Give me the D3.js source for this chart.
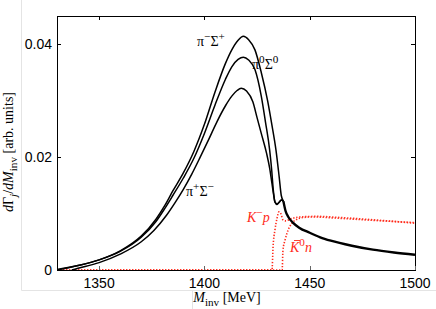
<!DOCTYPE html>
<html>
<head>
<meta charset="utf-8">
<script src="https://cdn.jsdelivr.net/npm/d3@7"></script>
<style>
  html, body { margin: 0; padding: 0; background: #fff; }
  svg { display: block; }
  .tick-label { font-family: "Liberation Sans", Arial, sans-serif; font-size: 14px; fill: #000; }
  .tex { font-family: "Liberation Serif", "Times New Roman", serif; fill: #000; }
</style>
</head>
<body>
<svg id="chart" width="436" height="309"></svg>
<script>
// [M_inv (MeV), dGamma/dM]
const piMinusSigmaPlus = [
  [1330, 0], [1340, 0.0008], [1350, 0.0018], [1360, 0.0034], [1366, 0.0048],
  [1370, 0.0060], [1377, 0.0090], [1381, 0.0113], [1385, 0.0140], [1390, 0.0172],
  [1395, 0.0210], [1400, 0.0258], [1405, 0.0315], [1410, 0.0366], [1413, 0.0390],
  [1416, 0.0407], [1418.5, 0.0414], [1421, 0.0408], [1424, 0.0390], [1427, 0.0350],
  [1430, 0.0300], [1432, 0.0258], [1434, 0.0212], [1435.5, 0.0165], [1436.5, 0.0132],
  [1437.5, 0.0122]
];
const piZeroSigmaZero = [
  [1330, 0.0001], [1340, 0.0008], [1350, 0.0018], [1360, 0.0033], [1370, 0.0058],
  [1377, 0.0086], [1381, 0.0108], [1385, 0.0132], [1390, 0.0163], [1395, 0.0198],
  [1400, 0.0242], [1405, 0.0292], [1410, 0.0338], [1413, 0.0360], [1416, 0.0373],
  [1418.5, 0.0377], [1421, 0.0372], [1424, 0.0355], [1427, 0.0308], [1429, 0.0262],
  [1431, 0.0212], [1432, 0.0175], [1432.7, 0.0142], [1433.5, 0.0121], [1434.5, 0.0117],
  [1435.5, 0.0120], [1436.5, 0.0124], [1437.5, 0.0122]
];
const piPlusSigmaMinus = [
  [1337, 0], [1340, 0.0003], [1350, 0.0013], [1360, 0.0028], [1370, 0.0050],
  [1376, 0.0070], [1382, 0.0097], [1386, 0.0119], [1390, 0.0143], [1394, 0.0170],
  [1398, 0.0200], [1402, 0.0231], [1406, 0.0263], [1410, 0.0291], [1413, 0.0308],
  [1415.5, 0.0318], [1417.5, 0.0322], [1420, 0.0317], [1423, 0.0298], [1425, 0.0270],
  [1427, 0.0242], [1429.5, 0.0207], [1431, 0.0180], [1432, 0.0155], [1432.8, 0.0135],
  [1433.5, 0.0120], [1434.5, 0.0116], [1435.5, 0.0120], [1436.5, 0.0124], [1437.5, 0.0122]
];
// common curve above the K̄0n threshold (all three coincide)
const commonTail = [
  [1437.5, 0.0122], [1438.5, 0.0105], [1440, 0.0093], [1442, 0.0084], [1445, 0.0075],
  [1450, 0.0066], [1455, 0.0058], [1460, 0.0052], [1470, 0.0043], [1480, 0.0036],
  [1490, 0.0031], [1500, 0.0027]
];
const kMinusP = [
  [1330, 0], [1432.1, 0], [1432.6, 0.0041], [1433.5, 0.0071], [1434.5, 0.0092],
  [1435.4, 0.0103], [1436.4, 0.0099], [1437.3, 0.0089], [1438.7, 0.0087], [1440.6, 0.0090],
  [1445.4, 0.0094], [1453.5, 0.0095], [1464.4, 0.0093], [1483.4, 0.0088], [1500, 0.0083]
];
const kBarZeroN = [
  [1330, 0], [1436.9, 0], [1437.3, 0.0035], [1438.3, 0.0053], [1439.2, 0.0065],
  [1441.6, 0.0083], [1444, 0.0090], [1446.8, 0.0093], [1452, 0.0094], [1462, 0.0092],
  [1480, 0.0088], [1500, 0.0084]
];

const xTicks = [1350, 1400, 1450, 1500];
const yTicks = [0, 0.02, 0.04];
const yTickLabels = ["0", "0.02", "0.04"];

const W = 436, H = 309;
const plot = { left: 57, right: 415, top: 16, bottom: 270 };

const svg = d3.select("#chart");

const x = d3.scaleLinear().domain([1330, 1500]).range([plot.left, plot.right]);
const y = d3.scaleLinear().domain([0, 0.045]).range([plot.bottom, plot.top]);

// faint page guides
svg.append("path")
  .attr("d", `M21.5,0V290.5H${W}M192.5,290.5V${H}`)
  .attr("fill", "none")
  .attr("stroke", "#e4e4e4")
  .attr("stroke-width", 1);

svg.append("clipPath").attr("id", "plotClip")
  .append("rect")
  .attr("x", plot.left).attr("y", plot.top)
  .attr("width", plot.right - plot.left).attr("height", plot.bottom - plot.top);

const line = d3.line()
  .x((d) => x(d[0]))
  .y((d) => y(d[1]))
  .curve(d3.curveMonotoneX);

const g = svg.append("g").attr("clip-path", "url(#plotClip)");

// red dotted K̄N channels
for (const s of [kMinusP, kBarZeroN]) {
  g.append("path")
    .attr("d", line(s))
    .attr("fill", "none")
    .attr("stroke", "#ff2a1a")
    .attr("stroke-width", 1.6)
    .attr("stroke-dasharray", "1.3 1.7");
}

for (const s of [piMinusSigmaPlus, piZeroSigmaZero, piPlusSigmaMinus]) {
  g.append("path")
    .attr("d", line(s))
    .attr("fill", "none")
    .attr("stroke", "#000")
    .attr("stroke-width", 1.5);
}

g.append("path")
  .attr("d", line(commonTail))
  .attr("fill", "none")
  .attr("stroke", "#000")
  .attr("stroke-width", 2.4);

// frame + inward ticks
const axes = svg.append("g");
axes.append("rect")
  .attr("x", plot.left + 0.5).attr("y", plot.top + 0.5)
  .attr("width", plot.right - plot.left).attr("height", plot.bottom - plot.top)
  .attr("fill", "none").attr("stroke", "#000").attr("stroke-width", 1);

const tickLen = 4;
for (const t of xTicks) {
  const px = Math.round(x(t)) + 0.5;
  axes.append("line").attr("x1", px).attr("x2", px)
    .attr("y1", plot.bottom).attr("y2", plot.bottom - tickLen).attr("stroke", "#666");
  axes.append("line").attr("x1", px).attr("x2", px)
    .attr("y1", plot.top).attr("y2", plot.top + tickLen).attr("stroke", "#000");
  axes.append("text").attr("class", "tick-label")
    .attr("x", x(t)).attr("y", 288)
    .attr("text-anchor", "middle")
    .text(t);
}
yTicks.forEach((t, i) => {
  const py = Math.round(y(t)) + 0.5;
  axes.append("line").attr("x1", plot.left).attr("x2", plot.left + tickLen)
    .attr("y1", py).attr("y2", py).attr("stroke", "#000");
  axes.append("line").attr("x1", plot.right).attr("x2", plot.right - tickLen)
    .attr("y1", py).attr("y2", py).attr("stroke", "#000");
  axes.append("text").attr("class", "tick-label")
    .attr("x", 52).attr("y", y(t) + 5)
    .attr("text-anchor", "end")
    .text(yTickLabels[i]);
});

// rich text helper: parts = [text, "sup"|"sub"|null, italic]
function richText(parent, px, py, parts, size, color, anchor) {
  const t = parent.append("text").attr("class", "tex")
    .attr("x", px).attr("y", py)
    .attr("font-size", size)
    .attr("text-anchor", anchor || "start")
    .style("fill", color || "#000");
  let shift = 0;
  for (const [txt, pos, it] of parts) {
    const target = pos === "sup" ? -size * 0.42 : pos === "sub" ? size * 0.25 : 0;
    t.append("tspan")
      .attr("dy", target - shift)
      .attr("font-size", pos ? size * 0.8 : size)
      .attr("font-style", it ? "italic" : "normal")
      .text(txt);
    shift = target;
  }
  return t;
}

richText(svg, 197, 46, [["π", null], ["−", "sup"], ["Σ", null], ["+", "sup"]], 14);
richText(svg, 252, 69, [["π", null], ["0", "sup"], ["Σ", null], ["0", "sup"]], 14);
richText(svg, 186, 196, [["π", null], ["+", "sup"], ["Σ", null], ["−", "sup"]], 14);
richText(svg, 247, 222, [["K", null, true], ["−", "sup"], ["p", null, true]], 14, "#ff2a1a");
richText(svg, 290, 252, [["K", null, true], ["0", "sup"], ["n", null, true]], 14, "#ff2a1a");
svg.append("line")
  .attr("x1", 294).attr("x2", 300).attr("y1", 240.5).attr("y2", 240.5)
  .attr("stroke", "#ff2a1a").attr("stroke-width", 0.9);

// axis titles
richText(svg, 227, 302, [["M", null, true], ["inv", "sub"], ["  [MeV]", null]], 14, "#000", "middle");
const yl = svg.append("g").attr("transform", "translate(13,152) rotate(-90)");
richText(yl, 0, 0, [["d", null, true], ["Γ", null], ["j", "sub", true], ["/", null], ["dM", null, true], ["inv", "sub"], ["  [arb. units]", null]], 14, "#000", "middle");
</script>
</body>
</html>
